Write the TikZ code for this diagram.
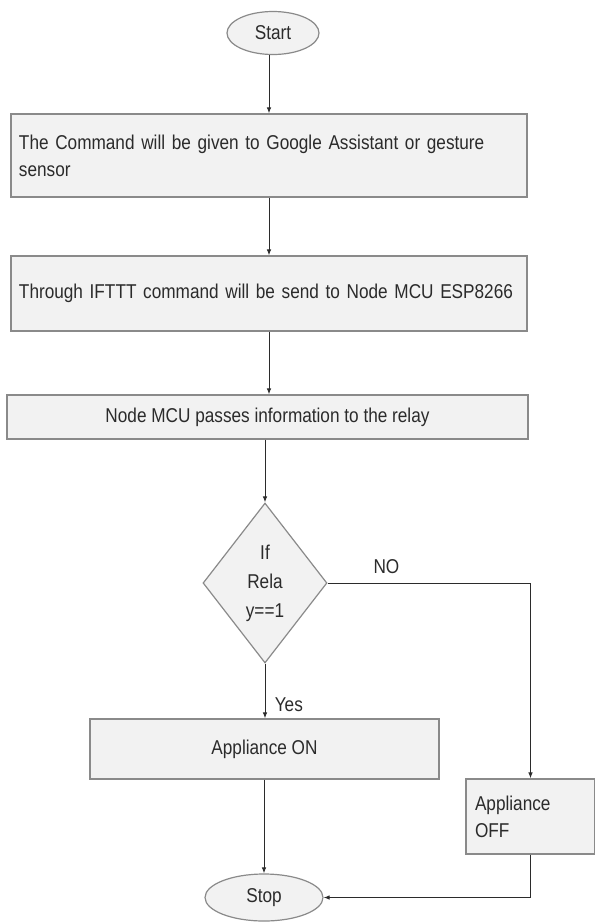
\documentclass[tikz,border=0pt]{standalone}
\usepackage{fontspec}
\setmainfont{Liberation Sans}[FakeStretch=0.86]
\usepackage{tikz}
\usetikzlibrary{shapes.geometric,arrows.meta}
\definecolor{boxfill}{HTML}{F2F2F2}
\definecolor{boxline}{HTML}{8A8A8A}
\definecolor{inkgray}{HTML}{2B2B2B}

\begin{document}
\begin{tikzpicture}[x=1pt, y=-1pt,
base_style/.style={draw=boxline, fill=boxfill, line width=1.2pt, text=inkgray, inner sep=0pt, font=\fontsize{20}{27}\selectfont},
box_style/.style={base_style, rectangle},
end_style/.style={base_style, ellipse},
decision_style/.style={base_style, diamond, aspect=0.775, align=center, font=\fontsize{20}{29}\selectfont},
edge_style/.style={draw=inkgray, line width=0.9pt, -{Latex[length=6pt,width=4.5pt]}},
label_style/.style={text=inkgray, font=\fontsize{20}{24}\selectfont}]
\useasboundingbox (0,0) rectangle (595,922);

\node[end_style, minimum width=92pt, minimum height=43pt] (start) at (273,33) {Start};
\node[box_style, minimum width=516pt, minimum height=83pt, text width=500pt, align=left] (cmd) at (269,155.5)
  {The Command will be given to Google Assistant or gesture\\sensor};
\node[box_style, minimum width=516pt, minimum height=75pt, text width=500pt, align=left] (ifttt) at (269,293.5)
  {Through IFTTT command will be send to Node MCU ESP8266};
\node[box_style, minimum width=521pt, minimum height=44pt] (relay) at (267.5,417)
  {Node MCU passes information to the relay};
\node[decision_style, minimum width=124pt, minimum height=160pt] (check) at (265,583) {If\\Rela\\y==1};
\node[box_style, minimum width=349pt, minimum height=60pt] (on) at (264.5,749) {Appliance ON};
\node[box_style, minimum width=129pt, minimum height=75pt, text width=111pt, align=left] (off) at (530.5,816.5)
  {Appliance\\OFF};
\node[end_style, minimum width=118pt, minimum height=47pt] (stop) at (264,897.5) {Stop};

\draw[edge_style] ([xshift=-4pt]start.south) -- ([xshift=-4pt]start.south |- cmd.north);
\draw[edge_style] (cmd) -- (ifttt);
\draw[edge_style] (ifttt) -- (ifttt |- relay.north);
\draw[edge_style] (check |- relay.south) -- (check.north);
\draw[edge_style] (check.south) -- (check.south |- on.north) node[label_style, pos=0.75, right=6pt] {Yes};
\draw[edge_style] (check.east) -| (off.north) node[label_style, pos=0.145, above=6pt] {NO};
\draw[edge_style] (on.south -| stop) -- (stop.north);
\draw[edge_style] (off.south) |- (stop.east);

\end{tikzpicture}
\end{document}
